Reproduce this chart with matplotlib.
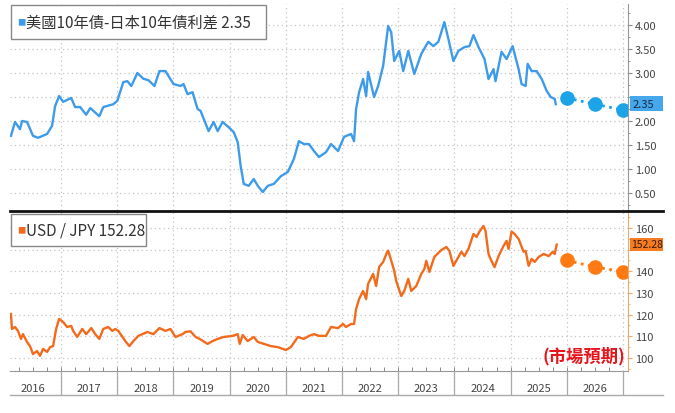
import matplotlib
matplotlib.use("Agg")
import matplotlib.pyplot as plt
from matplotlib.lines import Line2D
from matplotlib.patches import Rectangle
import numpy as np

plt.rcParams['font.family'] = ['Noto Sans CJK TC', 'DejaVu Sans']

# 美日10年債利差 (小數年份, 數值)
spread_t = [2016.107, 2016.179, 2016.268, 2016.304, 2016.393, 2016.5, 2016.589, 2016.75, 2016.839,
            2016.893, 2016.964, 2017.036, 2017.179, 2017.25, 2017.339, 2017.446, 2017.518, 2017.679,
            2017.75, 2017.929, 2018.0, 2018.107, 2018.179, 2018.25, 2018.357, 2018.464, 2018.554,
            2018.661, 2018.75, 2018.857, 2019.0, 2019.125, 2019.179, 2019.25, 2019.339, 2019.429,
            2019.482, 2019.625, 2019.714, 2019.786, 2019.875, 2019.982, 2020.071, 2020.143, 2020.196,
            2020.25, 2020.339, 2020.429, 2020.5, 2020.589, 2020.679, 2020.786, 2020.911, 2021.036,
            2021.143, 2021.232, 2021.321, 2021.411, 2021.5, 2021.589, 2021.714, 2021.804, 2021.929,
            2022.036, 2022.161, 2022.214, 2022.25, 2022.304, 2022.375, 2022.429, 2022.464, 2022.571,
            2022.643, 2022.732, 2022.821, 2022.875, 2022.929, 2023.018, 2023.089, 2023.179, 2023.286,
            2023.411, 2023.536, 2023.625, 2023.714, 2023.821, 2023.893, 2023.982, 2024.071, 2024.179,
            2024.268, 2024.339, 2024.429, 2024.536, 2024.607, 2024.696, 2024.732, 2024.839, 2024.929,
            2025.036, 2025.143, 2025.196, 2025.268, 2025.304, 2025.375, 2025.464, 2025.554, 2025.643,
            2025.714, 2025.786, 2025.804]
spread_v = [1.69, 1.98, 1.83, 2.00, 1.98, 1.69, 1.65, 1.73, 1.90,
            2.31, 2.52, 2.40, 2.48, 2.29, 2.29, 2.13, 2.27, 2.10,
            2.29, 2.35, 2.42, 2.81, 2.83, 2.73, 3.00, 2.88, 2.85,
            2.73, 3.04, 3.04, 2.77, 2.73, 2.77, 2.56, 2.60, 2.25,
            2.21, 1.79, 1.98, 1.79, 1.98, 1.87, 1.77, 1.56, 1.06,
            0.69, 0.65, 0.79, 0.65, 0.52, 0.65, 0.69, 0.85, 0.94,
            1.21, 1.58, 1.52, 1.52, 1.375, 1.25, 1.35, 1.52, 1.375,
            1.67, 1.73, 1.58, 2.25, 2.60, 2.875, 2.52, 3.02, 2.50,
            2.73, 3.15, 3.98, 3.85, 3.25, 3.46, 3.04, 3.46, 2.98,
            3.40, 3.65, 3.56, 3.65, 4.06, 3.71, 3.25, 3.46, 3.54,
            3.56, 3.79, 3.54, 3.29, 2.875, 3.08, 2.83, 3.44, 3.29,
            3.56, 3.08, 2.77, 2.73, 3.19, 3.04, 3.04, 2.875, 2.625,
            2.50, 2.46, 2.35]

# 美元兌日圓
fx_t = [2016.107, 2016.125, 2016.179, 2016.232, 2016.286, 2016.321, 2016.393, 2016.446, 2016.5,
        2016.571, 2016.625, 2016.679, 2016.75, 2016.804, 2016.857, 2016.911, 2016.964, 2017.036,
        2017.107, 2017.179, 2017.214, 2017.286, 2017.375, 2017.446, 2017.536, 2017.607, 2017.679,
        2017.75, 2017.839, 2017.911, 2017.964, 2018.018, 2018.143, 2018.214, 2018.286, 2018.375,
        2018.536, 2018.643, 2018.75, 2018.857, 2018.946, 2019.036, 2019.161, 2019.214, 2019.304,
        2019.393, 2019.464, 2019.607, 2019.696, 2019.786, 2019.893, 2020.054, 2020.143, 2020.179,
        2020.232, 2020.321, 2020.429, 2020.5, 2020.607, 2020.732, 2020.857, 2021.0, 2021.089,
        2021.214, 2021.321, 2021.411, 2021.5, 2021.589, 2021.714, 2021.804, 2021.929, 2022.018,
        2022.071, 2022.161, 2022.214, 2022.25, 2022.304, 2022.375, 2022.429, 2022.464, 2022.554,
        2022.607, 2022.661, 2022.732, 2022.804, 2022.821, 2022.875, 2022.929, 2022.964, 2023.054,
        2023.107, 2023.179, 2023.232, 2023.321, 2023.411, 2023.464, 2023.5, 2023.554, 2023.643,
        2023.768, 2023.857, 2023.911, 2023.982, 2024.071, 2024.125, 2024.179, 2024.25, 2024.339,
        2024.393, 2024.446, 2024.518, 2024.554, 2024.607, 2024.643, 2024.714, 2024.786, 2024.875,
        2024.929, 2024.964, 2025.018, 2025.071, 2025.143, 2025.232, 2025.268, 2025.321, 2025.375,
        2025.429, 2025.5, 2025.589, 2025.679, 2025.75, 2025.786, 2025.821]
fx_v = [120.3, 113.4, 114.3, 112.5, 108.8, 111.0, 107.4, 105.5, 101.8,
        103.2, 101.0, 104.2, 102.8, 105.0, 105.5, 113.4, 118.0, 116.6,
        114.3, 114.8, 112.5, 109.7, 113.4, 111.0, 113.8, 111.0, 108.8,
        113.4, 114.3, 112.5, 113.4, 112.5, 107.8, 105.5, 107.8, 110.2,
        112.0, 111.0, 113.8, 112.5, 113.4, 109.7, 111.0, 112.0, 112.3,
        109.7, 108.8, 106.5, 107.8, 108.8, 109.7, 110.2, 111.0, 106.5,
        110.6, 107.8, 109.7, 107.4, 106.5, 105.5, 105.0, 103.7, 105.0,
        109.7, 108.8, 110.2, 111.0, 110.2, 110.2, 114.3, 113.8, 115.7,
        114.3, 115.7, 115.7, 122.6, 127.2, 130.9, 127.2, 134.2, 138.8,
        133.2, 142.0, 144.3, 149.0, 149.5, 145.0, 140.2, 135.5, 128.6,
        130.9, 136.5, 130.9, 133.2, 138.8, 141.0, 144.8, 139.7, 146.6,
        149.8, 151.2, 149.4, 142.5, 146.6, 149.0, 147.0, 150.3, 157.2,
        155.8, 158.3, 160.9, 158.6, 148.0, 145.7, 141.9, 147.0, 151.7,
        154.0, 150.3, 158.3, 157.2, 154.9, 149.0, 149.4, 142.5, 145.7,
        144.3, 146.6, 148.0, 147.0, 149.0, 148.0, 152.3]

# 市場預期
fc_t = [2026.0, 2026.5, 2027.0]
spread_fc = [2.48, 2.35, 2.23]
fx_fc = [145.0, 142.0, 139.8]

years = list(range(2016, 2027))
spread_ticks = [0.5, 1.0, 1.5, 2.0, 2.5, 3.0, 3.5, 4.0]
fx_ticks = [100, 110, 120, 130, 140, 150, 160]

W, H = 675, 414
BLUE = '#3d9be9'
BLUE_DOT = '#1ca3e8'
ORANGE = '#f26b1d'
ORANGE_DOT = '#ff7a12'
GRID = '#c4c4c4'
TXT = '#444444'


def fx_(x):
    return x / W


def fy_(y):
    return 1 - y / H


fig = plt.figure(figsize=(W / 100, H / 100), dpi=100)
fig.patch.set_facecolor('white')

xl, xr = 10, 628
ax1 = fig.add_axes([fx_(xl), fy_(211), (xr - xl) / W, 206 / H])
ax2 = fig.add_axes([fx_(xl), fy_(372), (xr - xl) / W, 160 / H])
ax3 = fig.add_axes([fx_(xl), fy_(396), (xr - xl) / W, 24 / H])

xlim = (2016.09, 2027.09)
for ax in (ax1, ax2, ax3):
    ax.set_xlim(*xlim)
    ax.set_facecolor('none')
    for s in ('left', 'top'):
        ax.spines[s].set_visible(False)
    for yr in years[1:] + [2027]:
        ax.axvline(yr, color=GRID, linestyle=(0, (1, 2.5)), lw=0.9, zorder=0)

# panel superior
ax1.plot(spread_t, spread_v, color=BLUE, lw=1.7)
ax1.plot(fc_t, spread_fc, color=BLUE_DOT, lw=2, linestyle=(0, (1, 1.6)),
         marker='o', markersize=9.5)
ax1.set_ylim(0.146, 4.4375)
ax1.set_yticks(spread_ticks)
# la etiqueta 2.50 queda tapada por el recuadro del último valor
ax1.set_yticklabels(['' if v == 2.5 else f'{v:.2f}' for v in spread_ticks])
ax1.set_yticks(np.arange(0.25, 4.4, 0.25), minor=True)
ax1.yaxis.tick_right()
ax1.yaxis.set_tick_params(which='major', length=3, color='#888888', labelsize=8,
                          labelcolor=TXT, pad=2)
ax1.yaxis.set_tick_params(which='minor', length=1.5, color='#888888')
ax1.set_xticks([])
ax1.spines['bottom'].set_visible(False)
ax1.spines['right'].set_color('#999999')
ax1.grid(axis='y', color=GRID, linestyle=(0, (1, 2.5)), lw=0.9)

# panel inferior
ax2.plot(fx_t, fx_v, color=ORANGE, lw=1.7)
ax2.plot(fc_t, fx_fc, color=ORANGE_DOT, lw=2, linestyle=(0, (1, 1.6)),
         marker='o', markersize=9.5)
ax2.set_ylim(94.0, 167.8)
ax2.set_yticks(fx_ticks)
ax2.set_yticklabels(['' if v == 150 else str(v) for v in fx_ticks])
ax2.set_yticks(np.arange(95, 167, 5), minor=True)
ax2.yaxis.tick_right()
ax2.yaxis.set_tick_params(which='major', length=3, color='#f5a66e', labelsize=8,
                          labelcolor=TXT, pad=2)
ax2.yaxis.set_tick_params(which='minor', length=1.5, color='#f5a66e')
ax2.spines['right'].set_color('#f5a66e')
ax2.spines['bottom'].set_color('#999999')
ax2.set_xticks([])
ax2.set_xticks(np.arange(2016.25, 2027.0, 0.25), minor=True)
ax2.xaxis.set_tick_params(which='minor', direction='in', length=3, color='#777777')
ax2.grid(axis='y', color=GRID, linestyle=(0, (1, 2.5)), lw=0.9)

# fila de años
ax3.set_ylim(0, 1)
ax3.set_yticks([])
ax3.set_xticks([])
ax3.spines['right'].set_visible(False)
ax3.spines['bottom'].set_visible(False)
for yr in years[1:] + [2027]:
    ax3.axvline(yr, color='#aaaaaa', lw=0.9, zorder=1)
for yr in years:
    ax3.text(yr + 0.5, 0.3, str(yr), ha='center', va='center', fontsize=8, color=TXT)

# líneas horizontales largas
fig.add_artist(Line2D([fx_(10), fx_(663)], [fy_(212), fy_(212)], color='#111111', lw=2))
fig.add_artist(Line2D([fx_(10), fx_(663)], [fy_(396), fy_(396)], color='#aaaaaa', lw=1))

# leyendas
fig.add_artist(Rectangle((fx_(11), fy_(40)), (266 - 11) / W, 34 / H, transform=fig.transFigure,
                         facecolor='white', edgecolor='#888888', lw=1))
fig.text(fx_(17), fy_(23), '■', color=BLUE, fontsize=6, va='center')
fig.text(fx_(26), fy_(23), '美國10年債-日本10年債利差 2.35', color='#333333', fontsize=11, va='center')

fig.add_artist(Rectangle((fx_(11), fy_(247)), (146 - 11) / W, 32 / H, transform=fig.transFigure,
                         facecolor='white', edgecolor='#888888', lw=1))
fig.text(fx_(17), fy_(231), '■', color=ORANGE, fontsize=6, va='center')
fig.text(fx_(26), fy_(231), 'USD / JPY 152.28', color='#333333', fontsize=11, va='center')

# etiquetas de último valor
fig.add_artist(Rectangle((fx_(630), fy_(112)), 33 / W, 15 / H, transform=fig.transFigure,
                         facecolor='#45a8ec', edgecolor='none'))
fig.text(fx_(633), fy_(104.5), '2.35', fontsize=8, color='#1a2a44', va='center')
fig.add_artist(Rectangle((fx_(630), fy_(252)), 33 / W, 13 / H, transform=fig.transFigure,
                         facecolor='#f57c22', edgecolor='none'))
fig.text(fx_(631), fy_(245.5), '152.28', fontsize=7.5, color='#3a1a00', va='center')

fig.text(fx_(542), fy_(356), '(市場預期)', color='#e8141c', fontsize=12.5, fontweight='bold',
         va='center')

fig.savefig('out.png', dpi=100)
